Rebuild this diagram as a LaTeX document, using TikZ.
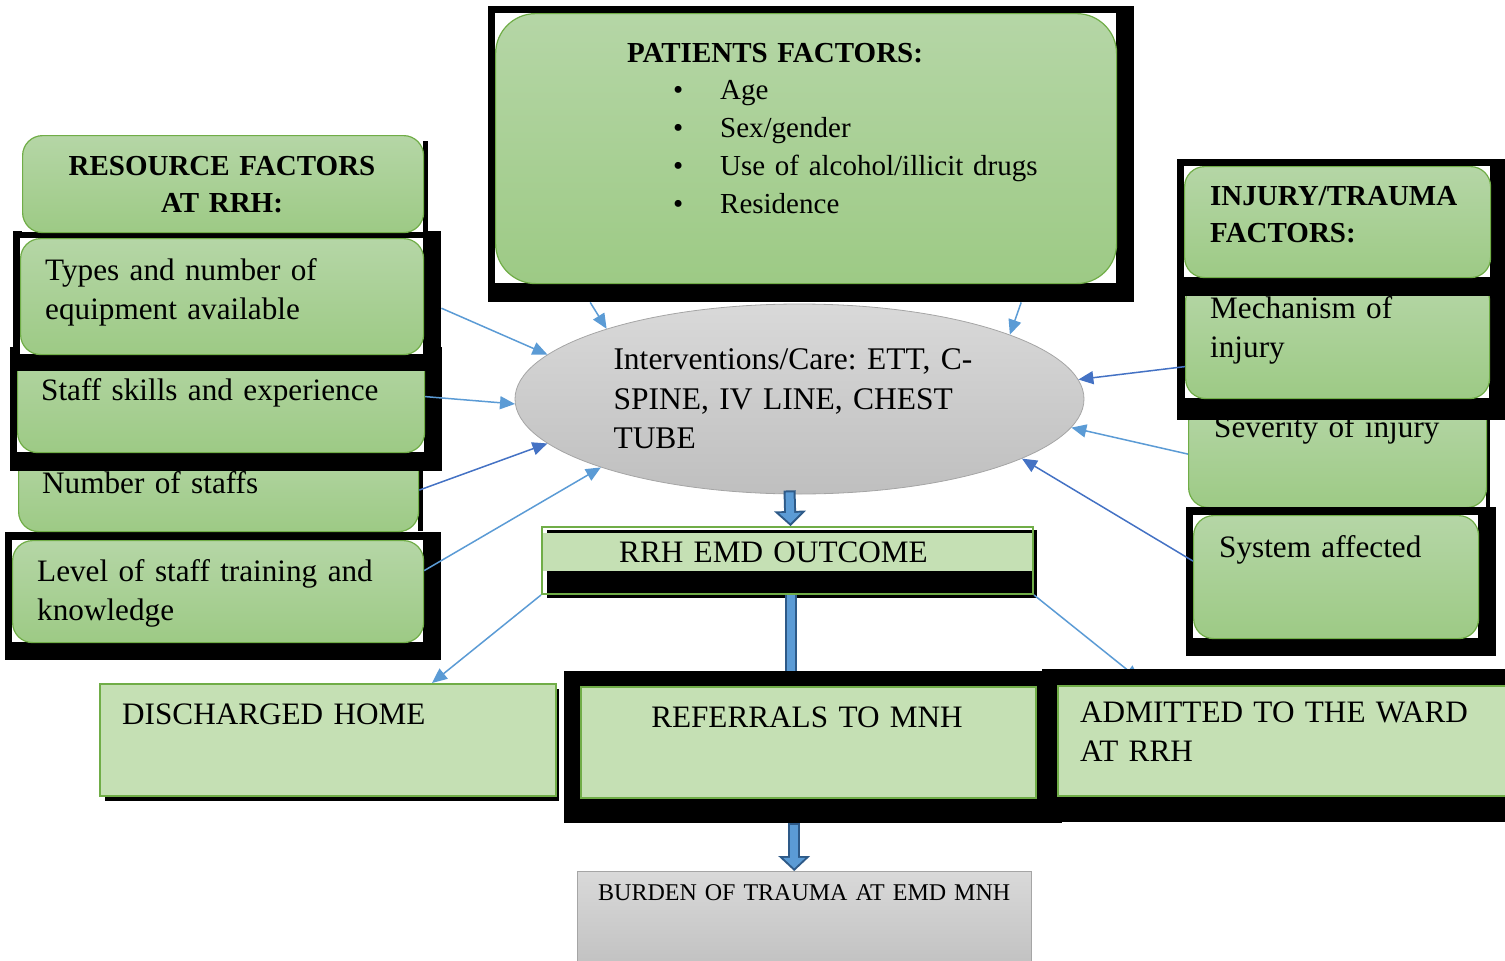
\documentclass[tikz,border=0pt]{standalone}
\usepackage{fontspec}
\setmainfont{Liberation Serif}
\usetikzlibrary{positioning,arrows.meta,shapes.geometric,calc}
\definecolor{FigGreenTop}{HTML}{B5D6A6}
\definecolor{FigGreenBot}{HTML}{9DCA85}
\definecolor{FigGreenEdge}{HTML}{70AD47}
\definecolor{FigGreenFlat}{HTML}{C5E0B4}
\definecolor{FigGreyTop}{HTML}{D9D9D9}
\definecolor{FigGreyBot}{HTML}{BFBFBF}
\definecolor{FigGreyEdge}{HTML}{A5A5A5}
\definecolor{FigLine}{HTML}{5B9BD5}
\definecolor{FigLineDark}{HTML}{4472C4}
\definecolor{FigArrFill}{HTML}{5B9BD5}
\definecolor{FigArrEdge}{HTML}{2E5A88}
\frenchspacing

\begin{document}
\begin{tikzpicture}[
  x=1pt, y=-1pt,
  bk/.style={rectangle, fill=black, anchor=north west, inner sep=0pt},
  wh/.style={rectangle, fill=white, anchor=north west, inner sep=0pt},
  gbox/.style={rectangle, rounded corners=20pt, draw=FigGreenEdge, line width=1.2pt, top color=FigGreenTop, bottom color=FigGreenBot, anchor=north west, inner sep=0pt},
  obox/.style={rectangle, draw=FigGreenEdge, line width=2pt, fill=FigGreenFlat, anchor=north west, inner sep=0pt},
  ell/.style={ellipse, draw=FigGreyEdge, line width=0.8pt, top color=FigGreyTop, bottom color=FigGreyBot, minimum width=569pt, minimum height=190pt, inner sep=0pt, text width=372pt, align=left, font=\fontsize{31.5}{39.5}\selectfont},
  txt/.style={anchor=base west, inner sep=0pt, align=left, font=\fontsize{31.2}{39.5}\selectfont},
  hdr/.style={txt, font=\bfseries\fontsize{29}{37}\selectfont},
  arrL/.style={draw=FigLine, line width=1.5pt, -{Triangle[length=15pt,width=13pt]}},
  arrD/.style={arrL, draw=FigLineDark},
  blkO/.style={draw=FigArrEdge, line width=12pt},
  blkI/.style={draw=FigArrFill, line width=8pt, shorten <=2pt},
  blkOtip/.style={blkO, -{Triangle[length=15pt,width=32pt,line width=0pt]}},
  blkItip/.style={blkI, shorten >=2.74pt, -{Triangle[length=10.3pt,width=21.9pt,line width=0pt]}}
]
\useasboundingbox (0,0) rectangle (1505,961);

% patient factors
\node[bk, minimum width=646pt, minimum height=296pt] (patbk) at (488,6) {};
\node[wh, minimum width=621pt, minimum height=270pt] (patwh) at (495,13) {};
\node[gbox, rounded corners=40pt, minimum width=621pt, minimum height=270pt] (pat) at (495,13) {};
\node[hdr, align=center, text width=400pt, anchor=base] (patT) at (775,62) {PATIENTS FACTORS:};
\node[txt, font=\fontsize{29}{38.3}\selectfont, text width=420pt] (patL) at (673,99)
  {\makebox[47pt][l]{\textbullet}Age\\
   \makebox[47pt][l]{\textbullet}Sex/gender\\
   \makebox[47pt][l]{\textbullet}Use of alcohol/illicit drugs\\
   \makebox[47pt][l]{\textbullet}Residence};

% resource factors (bottom to top)
\node[bk, minimum width=436pt, minimum height=128pt] (lvlbk) at (5,532) {};
\node[wh, minimum width=411pt, minimum height=102pt] (lvlwh) at (12,540) {};
\node[gbox, minimum width=411pt, minimum height=102pt] (lvl) at (12,540) {};
\node[txt, text width=390pt] (lvlT) at (37,581) {Level of staff training and\\knowledge};

\node[bk, minimum width=400pt, minimum height=86pt] (numbk) at (23,445) {};
\node[wh, minimum width=400pt, minimum height=91pt] (numwh) at (18,440) {};
\node[gbox, minimum width=400pt, minimum height=91pt] (num) at (18,440) {};

\node[bk, minimum width=432pt, minimum height=124pt] (stfbk) at (10,347) {};
\node[wh, minimum width=407pt, minimum height=81pt] (stfwh) at (17,371) {};
\node[gbox, minimum width=407pt, minimum height=112pt] (stf) at (17,340) {};
\node[txt, text width=390pt] (numT) at (42,493) {Number of staffs};

\node[bk, minimum width=428pt, minimum height=140pt] (typbk) at (13,231) {};
\node[wh, minimum width=403pt, minimum height=116pt] (typwh) at (20,238) {};
\node[gbox, minimum width=403pt, minimum height=116pt] (typ) at (20,238) {};
\node[txt, text width=380pt] (typT) at (45,280) {Types and number of\\equipment available};
\node[txt, text width=390pt] (stfT) at (41,400) {Staff skills and experience};

\node[bk, minimum width=401pt, minimum height=91pt] (resbk) at (27,141) {};
\node[wh, minimum width=401pt, minimum height=97pt] (reswh) at (22,135) {};
\node[gbox, minimum width=401pt, minimum height=97pt] (res) at (22,135) {};
\node[hdr, align=center, text width=400pt, anchor=base] (resT) at (222,175) {RESOURCE FACTORS\\AT RRH:};

% injury / trauma factors
\node[bk, minimum width=297pt, minimum height=102pt] (sevbk) at (1193,405) {};
\node[wh, minimum width=298pt, minimum height=102pt] (sevwh) at (1188,405) {};
\node[gbox, minimum width=298pt, minimum height=107pt] (sev) at (1188,400) {};
\node[txt, text width=280pt] (sevT) at (1214,437) {Severity of injury};

\node[bk, minimum width=310pt, minimum height=149pt] (sysbk) at (1186,507) {};
\node[wh, minimum width=285pt, minimum height=123pt] (syswh) at (1193,515) {};
\node[gbox, minimum width=285pt, minimum height=123pt] (sys) at (1193,515) {};
\node[txt, text width=250pt] (sysT) at (1219,557) {System affected};

\node[bk, minimum width=328pt, minimum height=261pt] (injbk) at (1177,159) {};
\node[wh, minimum width=304pt, minimum height=102pt] (mechwh) at (1185,296) {};
\node[gbox, minimum width=304pt, minimum height=118pt] (mech) at (1185,280) {};
\node[bk, minimum width=328pt, minimum height=137pt] (headbk) at (1177,159) {};
\node[wh, minimum width=306pt, minimum height=111pt] (headwh) at (1184,166) {};
\node[gbox, minimum width=306pt, minimum height=111pt] (head) at (1184,166) {};
\node[hdr, text width=290pt] (injT) at (1210,205) {INJURY/TRAUMA\\FACTORS:};
\node[txt, text width=270pt] (mechT) at (1210,318) {Mechanism of\\injury};

% interventions
\node[ell] (care) at (799.5,399) {Interventions/Care: ETT, C-\\SPINE, IV LINE, CHEST\\TUBE};

\draw[arrL] ([yshift=-7pt]typbk.east) -- (care.170);
\draw[arrL] (stf.east) -- (care.181);
\draw[arrD] ([yshift=-4pt]num.east) -- (care.190);
\draw[arrL] ([yshift=21pt]lvl.east) -- (care.199);
\draw[arrL] ([xshift=-221pt]patbk.south) -- (care.160);
\draw[arrL] ([xshift=210pt]patbk.south) -- (care.17);
\draw[arrD] ([yshift=-27pt]mech.west) -- (care.4);
\draw[arrL] (sev.west) -- (care.354);
\draw[arrD] ([yshift=16pt]sys.west) -- (care.345);

% outcome
\node[bk, minimum width=490pt, minimum height=68pt] (outbk) at (547,530) {};
\fill[FigGreenFlat] (541,533) rectangle (1032,571);
\node[rectangle, draw=FigGreenEdge, line width=2pt, anchor=north west, inner sep=0pt, minimum width=491pt, minimum height=67pt] (outc) at (541,526) {};
\node[txt, text width=400pt] (outT) at (619,562) {RRH EMD OUTCOME};

\draw[blkOtip] ([xshift=-10pt,yshift=4pt]care.south) -- ([xshift=3pt]outc.north);
\draw[blkItip] ([xshift=-10pt,yshift=4pt]care.south) -- ([xshift=3pt]outc.north);

% results of the visit
\coordinate (admTop) at (1140,680);
\draw[arrL] (outc.south east) -- (admTop);

\node[bk, minimum width=454pt, minimum height=112pt] (disbk) at (105,689) {};
\node[obox, minimum width=456pt, minimum height=112pt] (dis) at (99,683) {};
\node[txt, text width=420pt] (disT) at (122,724) {DISCHARGED HOME};
\draw[arrL] (outc.south west) -- ([xshift=104pt]dis.north);

\node[bk, minimum width=498pt, minimum height=152pt] (refbk) at (564,671) {};
\node[obox, minimum width=455pt, minimum height=111pt] (ref) at (580,686) {};
\node[txt, align=center, text width=440pt, anchor=base] (refT) at (807,727) {REFERRALS TO MNH};

\coordinate (shaftA) at ([xshift=3pt]outc.south);
\draw[blkO] (shaftA) -- (shaftA |- refbk.north);
\draw[blkI, shorten <=0pt] (shaftA) -- (shaftA |- refbk.north);

\node[bk, minimum width=468pt, minimum height=153pt] (admbk) at (1042,669) {};
\node[obox, minimum width=463pt, minimum height=110pt] (adm) at (1057,685) {};
\node[txt, text width=430pt] (admT) at (1080,722) {ADMITTED TO THE WARD\\AT RRH};

% burden
\node[rectangle, draw=FigGreyEdge, line width=1pt, top color=FigGreyTop, bottom color=FigGreyBot, anchor=north west, inner sep=0pt, minimum width=454pt, minimum height=104pt] (bur) at (577,871) {};
\node[txt, font=\fontsize{24}{30}\selectfont, text width=430pt] (burT) at (598,900) {BURDEN OF TRAUMA AT EMD MNH};

\coordinate (shaftB) at ([xshift=-19pt]refbk.south);
\draw[blkOtip] (shaftB) -- (shaftB |- bur.north);
\draw[blkItip] (shaftB) -- (shaftB |- bur.north);
\end{tikzpicture}
\end{document}
